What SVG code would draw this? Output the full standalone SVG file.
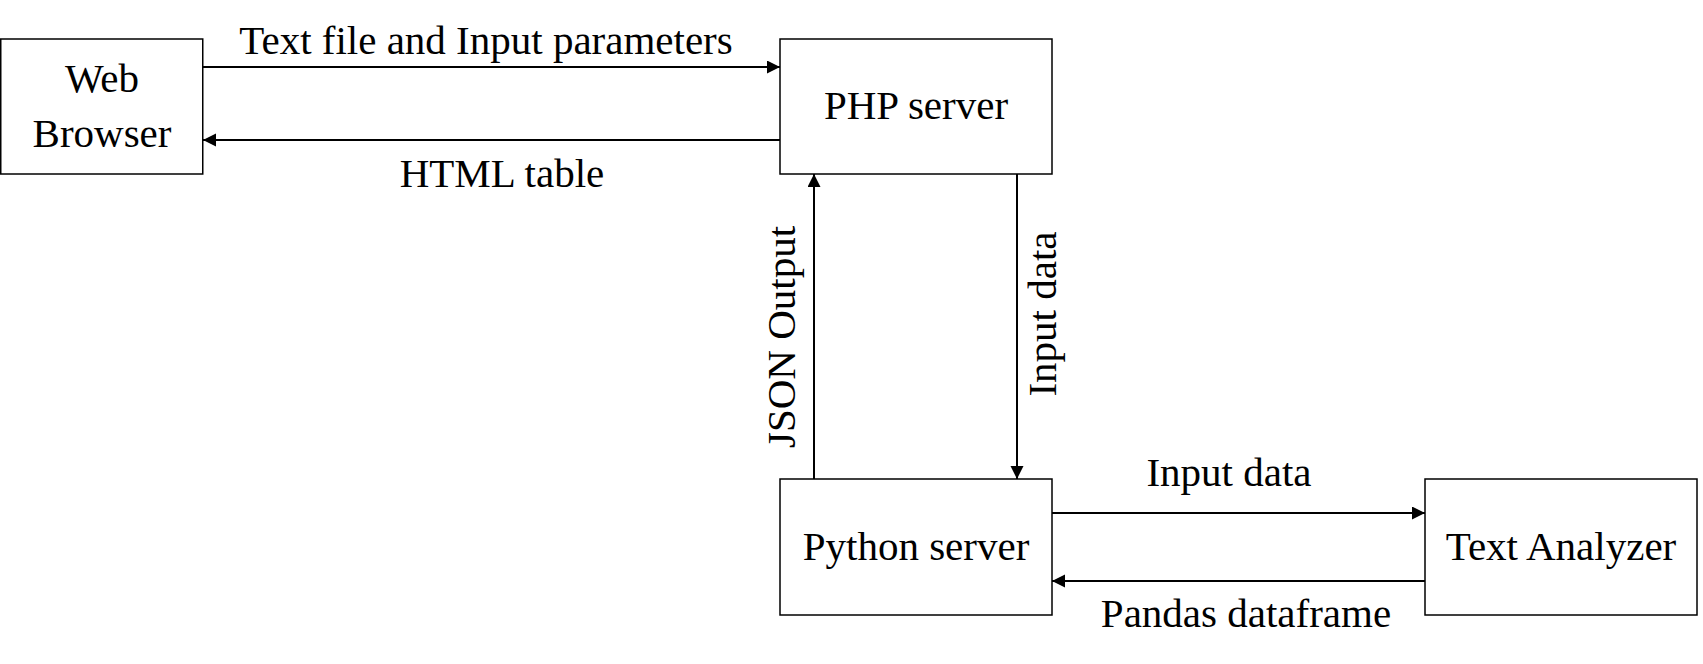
<svg xmlns="http://www.w3.org/2000/svg" width="1703" height="664" viewBox="0 0 1703 664">
<style>
.box{fill:#fff;stroke:#000;stroke-width:1.5}
.lbl{font-family:"Liberation Serif","Times New Roman",serif;font-size:41px;fill:#000;text-anchor:middle}
.con{stroke:#000;stroke-width:2;fill:none;marker-end:url(#ah)}
</style>
<defs>
<marker id="ah" markerUnits="userSpaceOnUse" markerWidth="14" markerHeight="14" refX="13" refY="6.5" orient="auto">
<path d="M0,0 L13,6.5 L0,13 z" fill="#000"/>
</marker>
</defs>
<rect width="1703" height="664" fill="#fff"/>
<g id="connectors">
<line class="con" x1="203" y1="67" x2="780" y2="67"/>
<line class="con" x1="780" y1="140" x2="203" y2="140"/>
<line class="con" x1="814" y1="479" x2="814" y2="174"/>
<line class="con" x1="1017" y1="174" x2="1017" y2="479"/>
<line class="con" x1="1052" y1="513" x2="1425" y2="513"/>
<line class="con" x1="1425" y1="581" x2="1052" y2="581"/>
<text class="lbl" x="486" y="54">Text file and Input parameters</text>
<text class="lbl" x="502" y="187">HTML table</text>
<text class="lbl" transform="translate(795,337) rotate(-90)">JSON Output</text>
<text class="lbl" transform="translate(1056,314) rotate(-90)">Input data</text>
<text class="lbl" x="1229" y="486">Input data</text>
<text class="lbl" x="1246" y="627">Pandas dataframe</text>
</g>
<g id="web-browser">
<rect class="box" x="0.75" y="39" width="202" height="135"/>
<text class="lbl" x="102" y="92">Web</text>
<text class="lbl" x="102" y="147">Browser</text>
</g>
<g id="php-server">
<rect class="box" x="780" y="39" width="272" height="135"/>
<text class="lbl" x="916" y="119">PHP server</text>
</g>
<g id="python-server">
<rect class="box" x="780" y="479" width="272" height="136"/>
<text class="lbl" x="916" y="560">Python server</text>
</g>
<g id="text-analyzer">
<rect class="box" x="1425" y="479" width="272" height="136"/>
<text class="lbl" x="1561" y="560">Text Analyzer</text>
</g>
</svg>
